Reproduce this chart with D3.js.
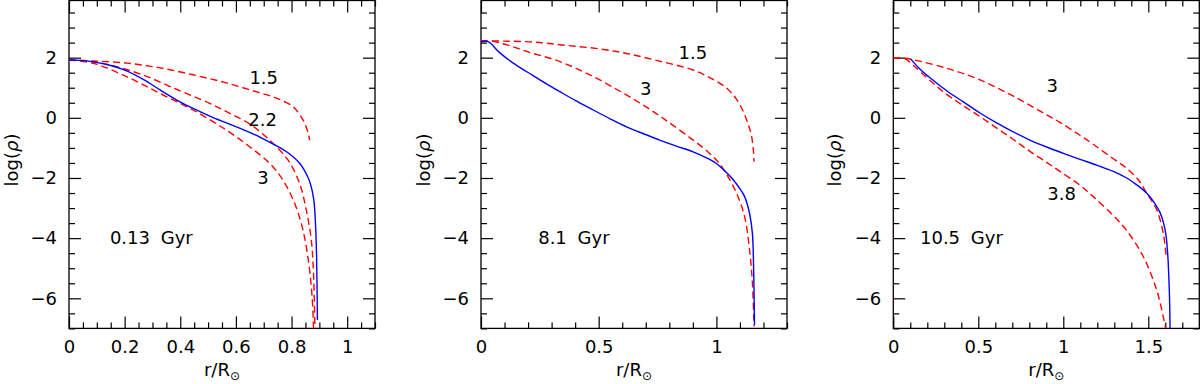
<!DOCTYPE html>
<html>
<head>
<meta charset="utf-8">
<script src="https://cdn.jsdelivr.net/npm/d3@7"></script>
<style>
  html, body { margin: 0; padding: 0; background: #fff; }
  svg { display: block; }
  text { font-family: "DejaVu Sans", sans-serif; fill: #000; }
</style>
</head>
<body>
<svg id="chart" width="1200" height="384"></svg>
<script>
// ---------------- data ----------------
const yTicks = [-6, -4, -2, 0, 2];
const yDomain = [-7, 3.9];

const xTicks1 = [0, 0.2, 0.4, 0.6, 0.8, 1];
const xTicks2 = [0, 0.5, 1];
const xTicks3 = [0, 0.5, 1, 1.5];

const ages = ["0.13 Gyr", "8.1 Gyr", "10.5 Gyr"];

// Panel 1 (0.13 Gyr)
const p1Blue = [[0,1.92],[0.04,1.91],[0.087,1.86],[0.15,1.74],[0.207,1.56],[0.27,1.26],[0.327,0.93],[0.386,0.60],[0.446,0.31],[0.51,0.04],[0.566,-0.17],[0.62,-0.37],[0.661,-0.53],[0.721,-0.81],[0.781,-1.12],[0.829,-1.51],[0.855,-1.9],[0.868,-2.2],[0.88,-2.73],[0.886,-3.51],[0.89,-4.62],[0.893,-6.72]];
const p1N15 = [[0,1.92],[0.087,1.89],[0.207,1.82],[0.327,1.66],[0.446,1.43],[0.566,1.16],[0.672,0.87],[0.744,0.66],[0.804,0.38],[0.84,-0.05],[0.858,-0.45],[0.865,-0.74]];
const p1N22 = [[0,1.92],[0.08,1.87],[0.147,1.76],[0.267,1.42],[0.386,0.95],[0.506,0.48],[0.578,0.15],[0.649,-0.2],[0.721,-0.74],[0.787,-1.40],[0.829,-2.18],[0.853,-3.07],[0.871,-4.06],[0.879,-5.17],[0.884,-7.0]];
const p1N3 = [[0,1.92],[0.087,1.81],[0.207,1.37],[0.327,0.81],[0.446,0.26],[0.566,-0.41],[0.649,-0.96],[0.721,-1.51],[0.769,-2.07],[0.811,-2.84],[0.841,-3.73],[0.862,-4.84],[0.874,-5.95],[0.879,-7.0]];

// Panel 2 (8.1 Gyr)
const p2Blue = [[0,2.53],[0.03,2.53],[0.08,2.16],[0.15,1.75],[0.22,1.41],[0.28,1.12],[0.335,0.87],[0.40,0.58],[0.477,0.26],[0.55,-0.04],[0.618,-0.30],[0.69,-0.53],[0.759,-0.74],[0.83,-0.94],[0.901,-1.13],[0.96,-1.34],[1.0,-1.52],[1.035,-1.76],[1.065,-2.0],[1.095,-2.3],[1.12,-2.62],[1.141,-3.18],[1.153,-3.84],[1.158,-4.95],[1.162,-6.89]];
const p2N15 = [[0,2.56],[0.1,2.55],[0.222,2.52],[0.335,2.43],[0.505,2.29],[0.618,2.14],[0.75,1.90],[0.901,1.59],[0.98,1.30],[1.042,1.00],[1.085,0.62],[1.115,0.20],[1.135,-0.22],[1.148,-0.55],[1.157,-1.07],[1.16,-1.46]];
const p2N3 = [[0,2.56],[0.05,2.54],[0.12,2.40],[0.2,2.19],[0.335,1.87],[0.477,1.37],[0.618,0.76],[0.70,0.37],[0.759,0.06],[0.816,-0.25],[0.901,-0.74],[0.96,-1.10],[1.0,-1.40],[1.028,-1.68],[1.05,-1.96],[1.072,-2.28],[1.092,-2.62],[1.12,-3.29],[1.141,-4.39],[1.153,-5.50],[1.16,-6.94]];

// Panel 3 (10.5 Gyr)
const p3Blue = [[0.102,1.96],[0.15,1.66],[0.216,1.33],[0.314,0.90],[0.412,0.53],[0.51,0.16],[0.608,-0.17],[0.706,-0.47],[0.80,-0.73],[0.902,-0.97],[1.0,-1.18],[1.098,-1.38],[1.2,-1.58],[1.294,-1.78],[1.373,-2.0],[1.43,-2.22],[1.49,-2.5],[1.53,-2.78],[1.569,-3.15],[1.59,-3.5],[1.604,-3.9],[1.615,-4.6],[1.62,-5.2],[1.625,-6.0],[1.628,-7.0]];
const p3N3 = [[0,1.98],[0.07,1.98],[0.118,1.93],[0.314,1.65],[0.51,1.26],[0.706,0.72],[0.902,0.10],[0.98,-0.15],[1.098,-0.58],[1.176,-0.88],[1.294,-1.36],[1.373,-1.68],[1.44,-2.05],[1.49,-2.5],[1.549,-3.05],[1.588,-3.84],[1.605,-4.6]];
const p3N38 = [[0,1.98],[0.07,1.96],[0.118,1.74],[0.216,1.24],[0.314,0.78],[0.412,0.40],[0.51,0.04],[0.608,-0.34],[0.706,-0.72],[0.80,-1.10],[0.902,-1.48],[0.98,-1.78],[1.098,-2.24],[1.176,-2.62],[1.294,-3.25],[1.373,-3.75],[1.471,-4.62],[1.549,-5.72],[1.588,-6.61],[1.602,-7.0]];

// ---------------- layout ----------------
const svg = d3.select("#chart");
const top0 = 0.5, bottom0 = 328.4, panelW = 306;

const panels = [
  { left: 69,    xMax: 1.1, major: xTicks1, minorStep: 0.05, ylabX: 18,
    blue: p1Blue, reds: [p1N15, p1N22, p1N3], age: ages[0], ageAt: [0.147, -3.97],
    notes: [["1.5", 0.70, 1.34], ["2.2", 0.696, -0.04], ["3", 0.697, -2.0]] },
  { left: 481,   xMax: 1.3, major: xTicks2, minorStep: 0.1, ylabX: 430,
    blue: p2Blue, reds: [p2N15, p2N3], age: ages[1], ageAt: [0.243, -3.97],
    notes: [["1.5", 0.90, 2.16], ["3", 0.70, 0.98]] },
  { left: 893.3, xMax: 1.8, major: xTicks3, minorStep: 0.1, ylabX: 841,
    blue: p3Blue, reds: [p3N3, p3N38], age: ages[2], ageAt: [0.157, -3.97],
    notes: [["3", 0.935, 1.06], ["3.8", 0.99, -2.51]] }
];

function rangeStep(a, b, s) {
  const out = [];
  const n = Math.round((b - a) / s);
  for (let i = 0; i <= n; i++) out.push(+(a + i * s).toFixed(6));
  return out;
}

const fmt = d => d3.format("~g")(d).replace("-", "\u2212");

panels.forEach((p, i) => {
  const x = d3.scaleLinear().domain([0, p.xMax]).range([p.left, p.left + panelW]);
  const y = d3.scaleLinear().domain(yDomain).range([bottom0, top0]);
  const g = svg.append("g");

  const clipId = "clip" + i;
  svg.append("clipPath").attr("id", clipId).append("rect")
    .attr("x", p.left).attr("y", top0).attr("width", panelW).attr("height", bottom0 - top0);

  const xMinor = rangeStep(0, p.xMax, p.minorStep).filter(v => !p.major.some(m => Math.abs(m - v) < 1e-6));
  const yMinor = rangeStep(-7, 3.5, 0.5).filter(v => !yTicks.some(m => Math.abs(m - v) < 1e-6));

  function axisGroup(axis, tr) {
    const a = g.append("g").attr("transform", tr).call(axis);
    a.select(".domain").remove();
    a.selectAll("line").attr("stroke", "#000").attr("stroke-width", 1.2);
    a.selectAll("text").attr("font-size", 18).attr("font-family", "DejaVu Sans, sans-serif").attr("fill", "#000");
    return a;
  }

  // bottom
  axisGroup(d3.axisBottom(x).tickValues(p.major).tickSizeInner(-12).tickSizeOuter(0).tickPadding(12).tickFormat(fmt), `translate(0,${bottom0})`);
  axisGroup(d3.axisBottom(x).tickValues(xMinor).tickSizeInner(-6).tickSizeOuter(0).tickFormat(""), `translate(0,${bottom0})`);
  // top
  axisGroup(d3.axisTop(x).tickValues(p.major).tickSizeInner(-12).tickSizeOuter(0).tickFormat(""), `translate(0,${top0})`);
  axisGroup(d3.axisTop(x).tickValues(xMinor).tickSizeInner(-6).tickSizeOuter(0).tickFormat(""), `translate(0,${top0})`);
  // left
  axisGroup(d3.axisLeft(y).tickValues(yTicks).tickSizeInner(-12).tickSizeOuter(0).tickPadding(12).tickFormat(fmt), `translate(${p.left},0)`);
  axisGroup(d3.axisLeft(y).tickValues(yMinor).tickSizeInner(-6).tickSizeOuter(0).tickFormat(""), `translate(${p.left},0)`);
  // right
  axisGroup(d3.axisRight(y).tickValues(yTicks).tickSizeInner(-12).tickSizeOuter(0).tickFormat(""), `translate(${p.left + panelW},0)`);
  axisGroup(d3.axisRight(y).tickValues(yMinor).tickSizeInner(-6).tickSizeOuter(0).tickFormat(""), `translate(${p.left + panelW},0)`);

  // frame
  g.append("rect").attr("x", p.left).attr("y", top0).attr("width", panelW).attr("height", bottom0 - top0)
    .attr("fill", "none").attr("stroke", "#000").attr("stroke-width", 1.3);

  const line = d3.line().x(d => x(d[0])).y(d => y(d[1])).curve(d3.curveCatmullRom.alpha(0.5));
  const curves = g.append("g").attr("clip-path", `url(#${clipId})`);
  p.reds.forEach(r => {
    curves.append("path").attr("d", line(r)).attr("fill", "none")
      .attr("stroke", "#ff0000").attr("stroke-width", 1.4).attr("stroke-dasharray", "7,4");
  });
  curves.append("path").attr("d", line(p.blue)).attr("fill", "none")
    .attr("stroke", "#0000ff").attr("stroke-width", 1.4);

  // annotations
  p.notes.forEach(n => {
    g.append("text").attr("x", x(n[1])).attr("y", y(n[2])).attr("dy", "0.36em")
      .attr("text-anchor", "middle").attr("font-size", 18).text(n[0]);
  });
  g.append("text").attr("x", x(p.ageAt[0])).attr("y", y(p.ageAt[1])).attr("dy", "0.36em")
    .attr("font-size", 18).style("word-spacing", "5px").text(p.age);

  // axis labels
  const xl = g.append("text").attr("x", p.left + panelW / 2).attr("y", 376)
    .attr("text-anchor", "middle").attr("font-size", 18);
  xl.append("tspan").text("r/R");
  xl.append("tspan").attr("font-size", 12).attr("dy", 4).text("\u2299");

  const yl = g.append("text").attr("transform", `translate(${p.ylabX},160) rotate(-90)`)
    .attr("text-anchor", "middle").attr("font-size", 18);
  yl.append("tspan").text("log(");
  yl.append("tspan").attr("font-style", "italic").text("\u03c1");
  yl.append("tspan").text(")");
});
</script>
</body>
</html>
